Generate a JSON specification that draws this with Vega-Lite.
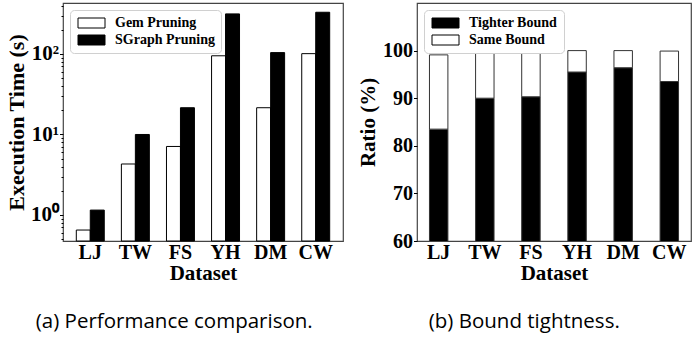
{
  "$schema": "https://vega.github.io/schema/vega-lite/v6.json",
  "padding": {"left": 4, "top": 2, "right": 0, "bottom": 0},
  "background": "white",
  "spacing": 12,
  "resolve": {"scale": {"color": "independent"}, "legend": {"color": "independent"}},
  "datasets": {
    "perf": [
      {"dataset": "LJ", "method": "Gem Pruning", "time": 0.65},
      {"dataset": "LJ", "method": "SGraph Pruning", "time": 1.15},
      {"dataset": "TW", "method": "Gem Pruning", "time": 4.3},
      {"dataset": "TW", "method": "SGraph Pruning", "time": 10},
      {"dataset": "FS", "method": "Gem Pruning", "time": 7.1},
      {"dataset": "FS", "method": "SGraph Pruning", "time": 21.5},
      {"dataset": "YH", "method": "Gem Pruning", "time": 95},
      {"dataset": "YH", "method": "SGraph Pruning", "time": 315},
      {"dataset": "DM", "method": "Gem Pruning", "time": 21.5},
      {"dataset": "DM", "method": "SGraph Pruning", "time": 104},
      {"dataset": "CW", "method": "Gem Pruning", "time": 101},
      {"dataset": "CW", "method": "SGraph Pruning", "time": 330}
    ],
    "bound": [
      {"dataset": "LJ", "type": "Tighter Bound", "ratio": 83.5},
      {"dataset": "LJ", "type": "Same Bound", "ratio": 15.6},
      {"dataset": "TW", "type": "Tighter Bound", "ratio": 90.0},
      {"dataset": "TW", "type": "Same Bound", "ratio": 9.4},
      {"dataset": "FS", "type": "Tighter Bound", "ratio": 90.3},
      {"dataset": "FS", "type": "Same Bound", "ratio": 9.5},
      {"dataset": "YH", "type": "Tighter Bound", "ratio": 95.5},
      {"dataset": "YH", "type": "Same Bound", "ratio": 4.5},
      {"dataset": "DM", "type": "Tighter Bound", "ratio": 96.4},
      {"dataset": "DM", "type": "Same Bound", "ratio": 3.6},
      {"dataset": "CW", "type": "Tighter Bound", "ratio": 93.5},
      {"dataset": "CW", "type": "Same Bound", "ratio": 6.4}
    ],
    "minor": [
      {"v": 0.5}, {"v": 0.6}, {"v": 0.7}, {"v": 0.8}, {"v": 0.9},
      {"v": 2}, {"v": 3}, {"v": 4}, {"v": 5}, {"v": 6}, {"v": 7}, {"v": 8}, {"v": 9},
      {"v": 20}, {"v": 30}, {"v": 40}, {"v": 50}, {"v": 60}, {"v": 70}, {"v": 80}, {"v": 90},
      {"v": 200}, {"v": 300}, {"v": 400}
    ]
  },
  "config": {
    "view": {"stroke": "#444", "strokeWidth": 1.2},
    "axis": {
      "labelFont": "Liberation Serif", "labelFontWeight": "bold", "labelFontSize": 20, "labelColor": "black",
      "titleFont": "Liberation Serif", "titleFontWeight": "bold", "titleFontSize": 21, "titleColor": "black",
      "tickColor": "black", "tickSize": 3.5, "domain": false, "grid": false
    },
    "legend": {
      "labelFont": "Liberation Serif", "labelFontWeight": "bold", "labelFontSize": 14, "labelColor": "black",
      "labelAlign": "left", "columns": 1,
      "orient": "top-left", "offset": 7, "fillColor": "white", "strokeColor": "#d0d0d0", "cornerRadius": 4,
      "padding": 6, "rowPadding": 3, "labelOffset": 28, "symbolOffset": 8.5,
      "symbolType": "M-2.7,-1H2.7V1H-2.7Z", "symbolSize": 100, "symbolStrokeColor": "black", "symbolStrokeWidth": 1,
      "symbolOpacity": 1
    },
    "title": {"font": "Open Sans", "fontSize": 20.5, "fontWeight": "normal", "color": "black"}
  },
  "hconcat": [
    {
      "width": 280,
      "height": 238,
      "title": {"text": "(a) Performance comparison.", "orient": "bottom", "anchor": "middle", "frame": "bounds", "offset": 29},
      "layer": [
        {
          "data": {"name": "perf"},
          "mark": {"type": "bar", "stroke": "black", "strokeWidth": 1},
          "encoding": {
            "x": {"field": "dataset", "type": "nominal", "sort": ["LJ", "TW", "FS", "YH", "DM", "CW"],
                  "scale": {"paddingInner": 0.38, "paddingOuter": 0.295},
                  "axis": {"title": "Dataset", "labelAngle": 0, "ticks": false, "labelPadding": 1, "titlePadding": 0}},
            "xOffset": {"field": "method", "type": "nominal", "sort": ["Gem Pruning", "SGraph Pruning"]},
            "y": {"field": "time", "type": "quantitative", "stack": null,
                  "scale": {"type": "log", "domain": [0.475, 430], "nice": false},
                  "axis": {"title": "Execution Time (s)", "titleFontSize": 22, "labelFontSize": 21, "values": [1, 10, 100], "titlePadding": 2, "labelPadding": 1,
                           "labelExpr": "datum.value == 1 ? '10⁰' : datum.value == 10 ? '10¹' : '10²'"}},
            "color": {"field": "method", "type": "nominal",
                      "scale": {"domain": ["Gem Pruning", "SGraph Pruning"], "range": ["white", "black"]},
                      "legend": {"title": null,
                                 "encode": {"labels": {"update": {"align": {"value": "left"}, "x": {"value": 39}}}}}}
          }
        },
        {
          "data": {"name": "minor"},
          "mark": {"type": "tick", "opacity": 0},
          "encoding": {
            "y": {"field": "v", "type": "quantitative",
                  "scale": {"type": "log", "domain": [0.475, 430], "nice": false},
                  "axis": {"orient": "left", "title": null, "labels": false, "tickSize": 2,
                           "values": [0.5, 0.6, 0.7, 0.8, 0.9, 2, 3, 4, 5, 6, 7, 8, 9, 20, 30, 40, 50, 60, 70, 80, 90, 200, 300, 400]}}
          }
        }
      ],
      "resolve": {"axis": {"y": "independent"}}
    },
    {
      "width": 274,
      "height": 238,
      "title": {"text": "(b) Bound tightness.", "orient": "bottom", "anchor": "middle", "frame": "bounds", "offset": 29},
      "data": {"name": "bound"},
      "mark": {"type": "bar", "stroke": "#333", "strokeWidth": 1, "clip": true},
      "encoding": {
        "x": {"field": "dataset", "type": "nominal", "sort": ["LJ", "TW", "FS", "YH", "DM", "CW"],
              "scale": {"paddingInner": 0.6, "paddingOuter": 0.27},
              "axis": {"title": "Dataset", "labelAngle": 0, "ticks": false, "labelPadding": 1, "titlePadding": 0}},
        "y": {"field": "ratio", "type": "quantitative", "stack": "zero",
              "scale": {"domain": [60, 110], "nice": false, "zero": false},
              "axis": {"title": "Ratio (%)", "values": [60, 70, 80, 90, 100], "titlePadding": 4, "labelPadding": 1}},
        "order": {"field": "type", "sort": "descending"},
        "color": {"field": "type", "type": "nominal",
                  "scale": {"domain": ["Tighter Bound", "Same Bound"], "range": ["black", "white"]},
                  "legend": {"title": null,
                             "encode": {"labels": {"update": {"align": {"value": "left"}, "x": {"value": 39}}}}}}
      }
    }
  ]
}
